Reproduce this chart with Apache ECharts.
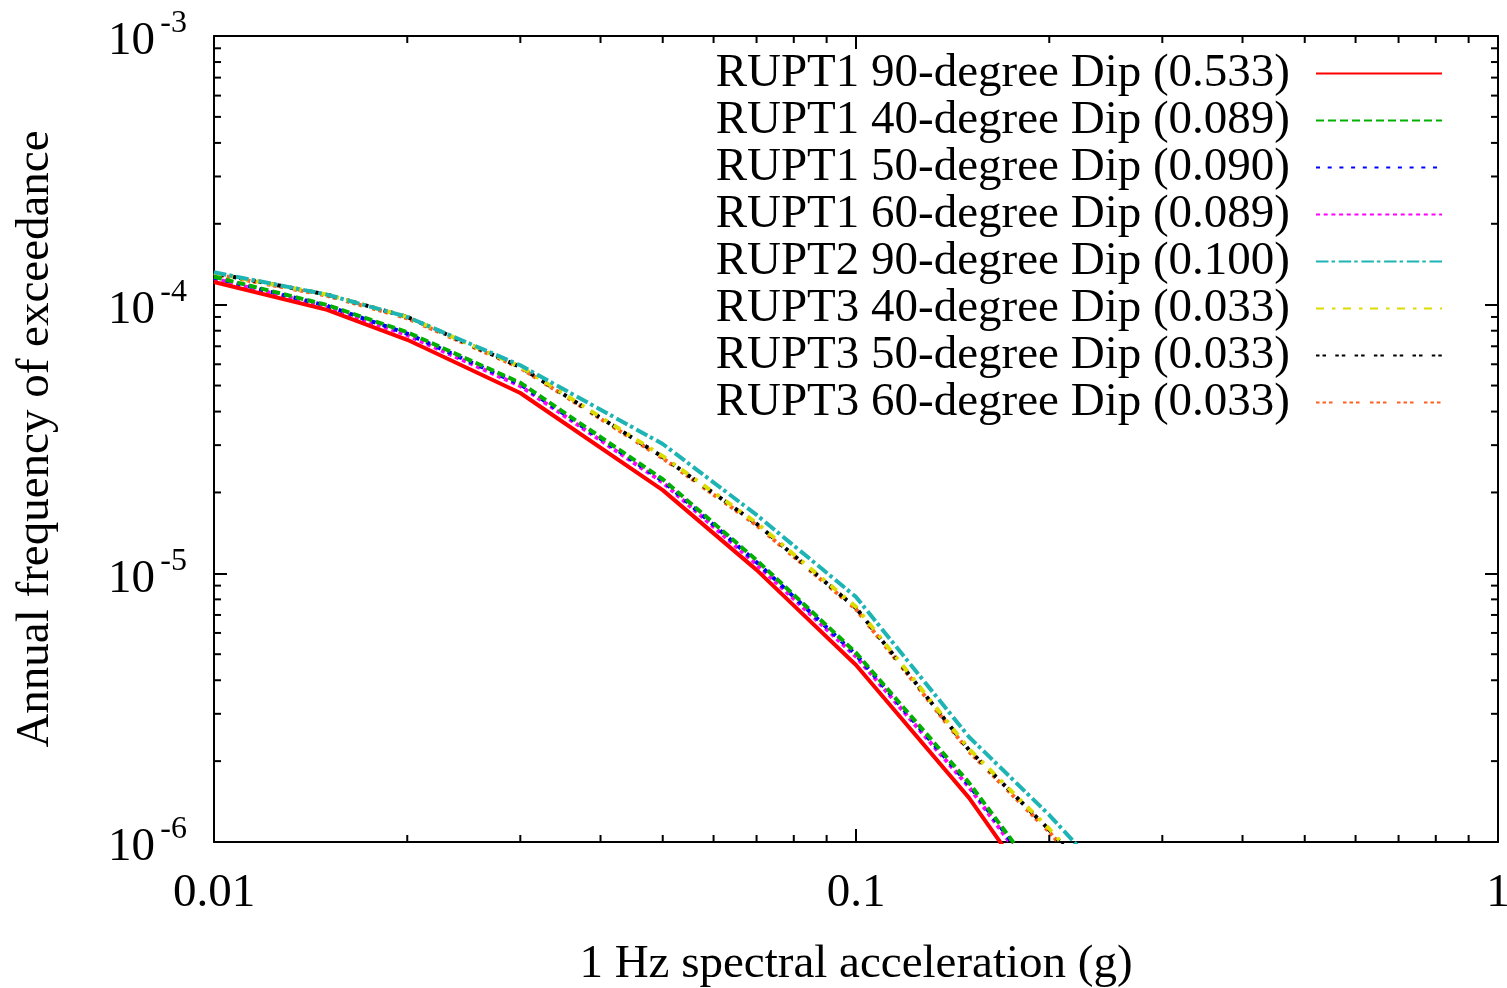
<!DOCTYPE html>
<html><head><meta charset="utf-8">
<script src="https://cdn.jsdelivr.net/npm/echarts@6/dist/echarts.min.js"></script>
<style>html,body{margin:0;padding:0;background:#fff}#c{width:1507px;height:988px}</style>
</head><body><div id="c"></div>
<script>
// ---- data ----
const xValues   = [0.01, 0.015, 0.02, 0.03, 0.05, 0.07, 0.1, 0.15, 0.2, 0.3];
const rupt1_90  = [1.215e-4, 9.56e-5, 7.4e-5, 4.69e-5, 2.04e-5, 1.03e-5, 4.56e-6, 1.46e-6, 5.5e-7, 1.4e-7];
const rupt1_40  = [1.27e-4, 9.97e-5, 7.9e-5, 5.12e-5, 2.24e-5, 1.12e-5, 5.06e-6, 1.66e-6, 6.6e-7, 1.7e-7];
const rupt1_50  = [1.26e-4, 9.9e-5, 7.8e-5, 5.05e-5, 2.21e-5, 1.10e-5, 4.98e-6, 1.63e-6, 6.5e-7, 1.65e-7];
const rupt1_60  = [1.25e-4, 9.8e-5, 7.7e-5, 4.98e-5, 2.18e-5, 1.08e-5, 4.9e-6, 1.6e-6, 6.3e-7, 1.6e-7];
const rupt2_90  = [1.32e-4, 1.09e-4, 9.0e-5, 5.95e-5, 3.03e-5, 1.65e-5, 8.17e-6, 2.46e-6, 1.26e-6, 4.4e-7];
const rupt3_40  = [1.31e-4, 1.09e-4, 9.0e-5, 5.88e-5, 2.73e-5, 1.54e-5, 7.5e-6, 2.22e-6, 1.12e-6, 3.7e-7];
const rupt3_50  = [1.31e-4, 1.09e-4, 9.0e-5, 5.86e-5, 2.71e-5, 1.53e-5, 7.43e-6, 2.2e-6, 1.11e-6, 3.7e-7];
const rupt3_60  = [1.30e-4, 1.08e-4, 8.9e-5, 5.82e-5, 2.68e-5, 1.51e-5, 7.35e-6, 2.17e-6, 1.09e-6, 3.6e-7];
const seriesNames = [
  'RUPT1 90-degree Dip (0.533)',
  'RUPT1 40-degree Dip (0.089)',
  'RUPT1 50-degree Dip (0.090)',
  'RUPT1 60-degree Dip (0.089)',
  'RUPT2 90-degree Dip (0.100)',
  'RUPT3 40-degree Dip (0.033)',
  'RUPT3 50-degree Dip (0.033)',
  'RUPT3 60-degree Dip (0.033)'
];
const xTickLabels = {'-2': '0.01', '-1': '0.1', '0': '1'};
const yTickBase = '10';
const xMin = 0.01, xMax = 1, yMin = 1e-6, yMax = 1e-3;
const xTitle = '1 Hz spectral acceleration (g)';
const yTitle = 'Annual frequency of exceedance';

// ---- styles ----
const seriesValues = [rupt1_90, rupt1_40, rupt1_50, rupt1_60, rupt2_90, rupt3_40, rupt3_50, rupt3_60];
const styles = [
  {color:'#ff0000', type:'solid', width:4},
  {color:'#00b000', type:[8,4], width:4},
  {color:'#0000ff', type:[4,7.7], width:4},
  {color:'#ff00ff', type:[4,3.7], width:4},
  {color:'#1eb4b4', type:[12.5,3,3.5,3.7], width:4},
  {color:'#dcdc00', type:[8,8,3.5,7.5], width:4},
  {color:'#000000', type:[3.5,3,3.5,9.3], width:4},
  {color:'#ff6020', type:[3.5,3,3.5,3,3.5,10.5], width:4}
];
const FONT = 'Liberation Serif';

const minorTicks = [];
for (let e = -2; e < 0; e++) for (let m = 2; m <= 9; m++) minorTicks.push([m * Math.pow(10, e), yMin, 0]);
for (let e = -6; e < -3; e++) for (let m = 2; m <= 9; m++) minorTicks.push([xMin, m * Math.pow(10, e), 1]);

const series = seriesNames.map((name, i) => ({
  name, type:'line', symbol:'none', clip:true, z: 3 + (8 - i),
  data: xValues.map((x, j) => [x, seriesValues[i][j]]),
  lineStyle:{color:styles[i].color, type:styles[i].type, width:styles[i].width, cap:'butt'},
  itemStyle:{color:styles[i].color}
}));
series.push({
  type:'custom', silent:true, z:10, data:minorTicks,
  renderItem(params, api) {
    const x = api.value(0), y = api.value(1), k = api.value(2), L = 7;
    const st = {stroke:'#000', lineWidth:2};
    if (k === 0) {
      const b = api.coord([x, yMin]), t = api.coord([x, yMax]);
      return {type:'group', children:[
        {type:'line', shape:{x1:b[0], y1:b[1], x2:b[0], y2:b[1]-L}, style:st},
        {type:'line', shape:{x1:t[0], y1:t[1], x2:t[0], y2:t[1]+L}, style:st}]};
    }
    const l = api.coord([xMin, y]), r = api.coord([xMax, y]);
    return {type:'group', children:[
      {type:'line', shape:{x1:l[0], y1:l[1], x2:l[0]+L, y2:l[1]}, style:st},
      {type:'line', shape:{x1:r[0], y1:r[1], x2:r[0]-L, y2:r[1]}, style:st}]};
  }
});

const axisLine = {show:true, lineStyle:{color:'#000', width:2}};
const axisTick = {show:true, inside:true, length:13, lineStyle:{color:'#000', width:2}};
const chart = echarts.init(document.getElementById('c'), null, {renderer:'canvas'});
chart.setOption({
  animation:false,
  backgroundColor:'#fff',
  grid:{left:214, right:9, top:36, bottom:146, containLabel:false, outerBoundsMode:'none'},
  legend:{
    data:seriesNames, orient:'vertical', right:59, top:45, align:'right',
    itemWidth:126, itemHeight:14, itemGap:0,
    itemStyle:{opacity:0},
    textStyle:{fontFamily:FONT, fontSize:47, color:'#000', lineHeight:46, padding:[0,21,0,0]}
  },
  xAxis:[{
    type:'log', logBase:10, min:xMin, max:xMax, position:'bottom',
    axisLine, axisTick, splitLine:{show:false}, minorTick:{show:false},
    axisLabel:{margin:28, fontFamily:FONT, fontSize:47, color:'#000',
      formatter:v => xTickLabels[String(Math.round(Math.log10(v)))] || ''},
    name:xTitle, nameLocation:'middle', nameGap:99,
    nameTextStyle:{fontFamily:FONT, fontSize:47, color:'#000'}
  },{
    type:'log', logBase:10, min:xMin, max:xMax, position:'top',
    axisLine, axisTick, axisLabel:{show:false}, splitLine:{show:false}
  }],
  yAxis:[{
    type:'log', logBase:10, min:yMin, max:yMax, position:'left',
    axisLine, axisTick, splitLine:{show:false},
    axisLabel:{margin:59, color:'#000', fontFamily:FONT, fontSize:47,
      verticalAlign:'top', lineHeight:12,
      formatter:() => yTickBase},
    name:yTitle, nameLocation:'middle', nameGap:155,
    nameTextStyle:{fontFamily:FONT, fontSize:47, color:'#000'}
  },{
    type:'log', logBase:10, min:yMin, max:yMax, position:'right',
    axisLine, axisTick, axisLabel:{show:false}, splitLine:{show:false}
  },{
    type:'log', logBase:10, min:yMin, max:yMax, position:'left', offset:0,
    axisLine:{show:false}, axisTick:{show:false}, splitLine:{show:false},
    axisLabel:{margin:27, color:'#000', fontFamily:FONT, fontSize:32,
      verticalAlign:'bottom', lineHeight:24,
      formatter:v => String(Math.round(Math.log10(v)))}
  }],
  series
});
</script>
</body></html>
